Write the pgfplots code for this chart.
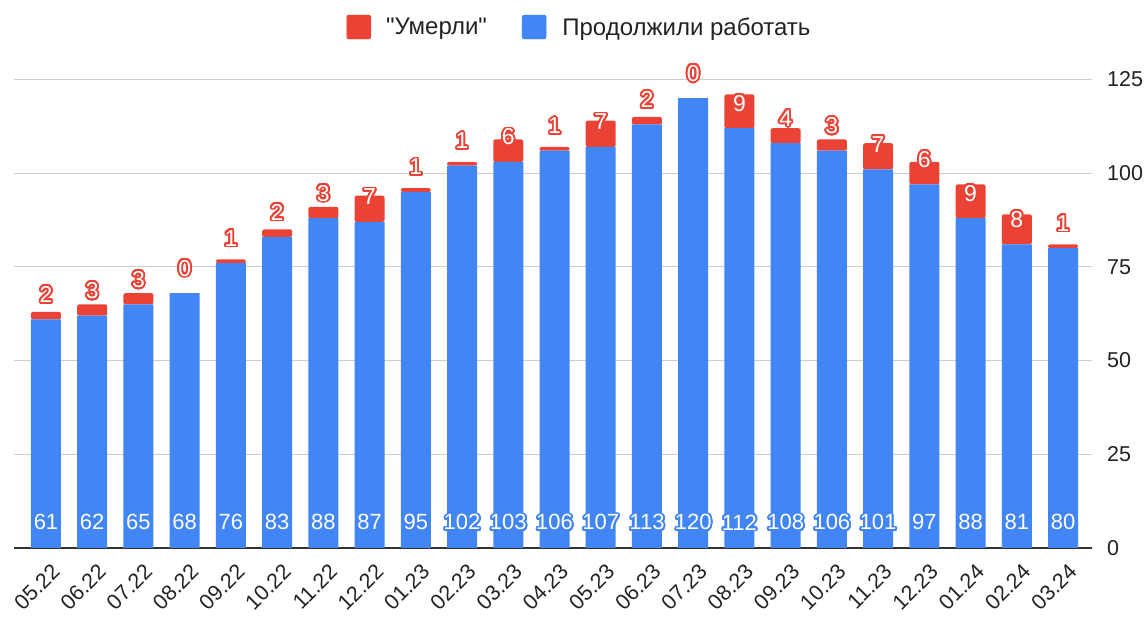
\documentclass[border=0pt]{standalone}
\usepackage{pgfplots}
\usepackage{pgfplotstable}
\pgfplotsset{compat=1.18}
\usepackage{fontspec}
\setmainfont{Liberation Sans}[Ligatures=TeXOff]
\usepackage{contour}
\contourlength{1.8pt}
\contournumber{32}
\definecolor{redc}{HTML}{EA4335}
\definecolor{bluec}{HTML}{4285F4}
\definecolor{gridc}{HTML}{CCCCCC}
\definecolor{axc}{HTML}{333333}
\definecolor{txt}{HTML}{222222}

\pgfplotstableread{
x blue red
0 61 2
1 62 3
2 65 3
3 68 0
4 76 1
5 83 2
6 88 3
7 87 7
8 95 1
9 102 1
10 103 6
11 106 1
12 107 7
13 113 2
14 120 0
15 112 9
16 108 4
17 106 3
18 101 7
19 97 6
20 88 9
21 81 8
22 80 1
}\data

\begin{document}
\begin{tikzpicture}
\path[use as bounding box] (-14pt,-69pt) rectangle (1134pt,548pt);
\begin{axis}[
  scale only axis, width=1078pt, height=468.5pt,
  ybar stacked, bar width=30pt,
  xmin=-0.692, xmax=22.627, ymin=0, ymax=125,
  xtick={0,...,22},
  xticklabels={05.22,06.22,07.22,08.22,09.22,10.22,11.22,12.22,01.23,02.23,03.23,04.23,05.23,06.23,07.23,08.23,09.23,10.23,11.23,12.23,01.24,02.24,03.24},
  ytick={0,25,50,75,100,125},
  yticklabel pos=right,
  ymajorgrids, major grid style={gridc, line width=1pt},
  axis line style={draw=none},
  major tick length=0pt,
  tick style={draw=none},
  /pgf/number format/assume math mode=true,
  yticklabel style={font=\fontsize{21.5}{24}\selectfont, text=txt, anchor=west, inner sep=0pt, xshift=15pt},
  xticklabel style={font=\fontsize{21.5}{24}\selectfont, text=txt, xshift=10pt, yshift=-20pt, rotate=45, anchor=east, inner sep=0pt},
  clip=false,
]
\addplot[fill=bluec, draw=none] table[x=x, y=blue]\data;
\addplot[fill=redc, draw=none, rounded corners=2pt] table[x=x, y=red]\data;
\draw[axc, line width=1.2pt] (rel axis cs:0,0) -- (rel axis cs:1,0);
\end{axis}
\begin{axis}[
  scale only axis, width=1078pt, height=468.5pt,
  xmin=-0.692, xmax=22.627, ymin=0, ymax=125,
  hide axis, clip=false,
  legend columns=2,
  legend style={at={(0.5237,1.112)}, anchor=center, draw=none, fill=none, inner sep=0pt,
    font=\fontsize{24}{28}\selectfont, text=txt,
    nodes={inner sep=0pt},
    /tikz/every even column/.append style={column sep=35pt}},
]
\addplot[forget plot, draw=none, mark=none,
  point meta=explicit symbolic,
  nodes near coords={\contour{redc}{\pgfplotspointmeta}},
  every node near coord/.append style={anchor=center, yshift=24pt, inner sep=0pt, text=white,
    font=\fontsize{23}{26}\selectfont}]
  table[x=x, y=blue, meta=red]\data;
\addplot[forget plot, draw=none, mark=none,
  point meta=explicit symbolic,
  nodes near coords={\contour{bluec}{\pgfplotspointmeta}},
  every node near coord/.append style={anchor=center, yshift=24.7pt, text=white,
    inner sep=0pt, font=\fontsize{22}{26}\selectfont}]
  table[x=x, y expr=0, meta=blue]\data;
\addlegendimage{legend image code/.code={\fill[redc, rounded corners=2pt] (0pt,-12pt) rectangle (24pt,12pt); \path (39pt,0pt);}}
\addlegendentry{"Умерли"}
\addlegendimage{legend image code/.code={\fill[bluec, rounded corners=2pt] (0pt,-12pt) rectangle (24pt,12pt); \path (40pt,0pt);}}
\addlegendentry{Продолжили работать}
\end{axis}
\end{tikzpicture}
\end{document}
